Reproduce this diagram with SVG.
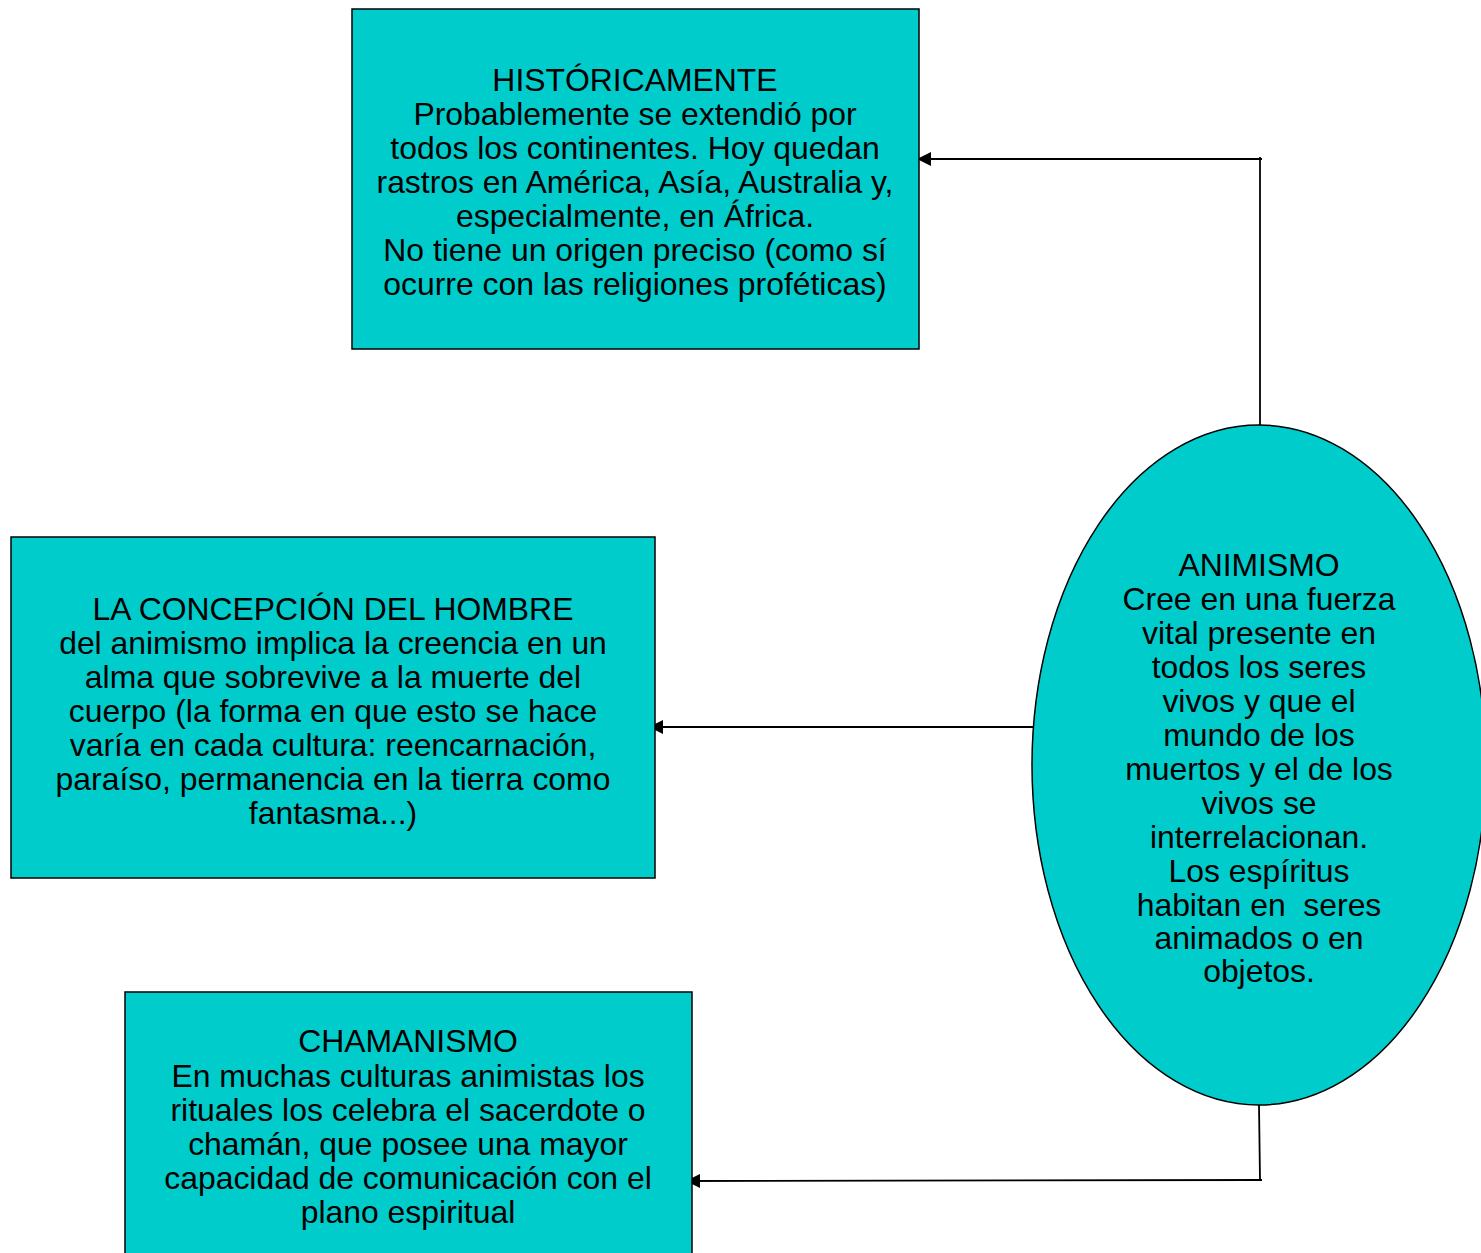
<svg xmlns="http://www.w3.org/2000/svg" width="1481" height="1253" viewBox="0 0 1481 1253">
<style>
.n{fill:#00CCCC;stroke:#000;stroke-width:1.5}
.t{font-family:"Liberation Sans",Arial,sans-serif;font-size:31.9px;fill:#000;text-anchor:middle}
.c{fill:none;stroke:#000;stroke-width:1.8}
</style>
<defs>
<marker id="a" markerWidth="14" markerHeight="14" refX="13" refY="7" orient="auto" markerUnits="userSpaceOnUse">
<path d="M0,0 L14,7 L0,14 Z" fill="#000"/>
</marker>
</defs>
<rect width="1481" height="1253" fill="#fff"/>
<g id="connectors">
<path class="c" d="M1260,425 L1260,157"/>
<path class="c" d="M1262,159 L918,159" marker-end="url(#a)"/>
<path class="c" d="M1035,727 L650,727" marker-end="url(#a)"/>
<path class="c" d="M1259,1105 L1260,1180"/>
<path class="c" d="M1262,1180 L687,1181" marker-end="url(#a)"/>
</g>
<g id="historicamente">
<rect class="n" x="352" y="9" width="567" height="340"/>
<text class="t"><tspan x="635" y="91">HISTÓRICAMENTE</tspan><tspan x="635" y="125">Probablemente se extendió por</tspan><tspan x="635" y="159">todos los continentes. Hoy quedan</tspan><tspan x="635" y="193">rastros en América, Asía, Australia y,</tspan><tspan x="635" y="227">especialmente, en África.</tspan><tspan x="635" y="261">No tiene un origen preciso (como sí</tspan><tspan x="635" y="295">ocurre con las religiones proféticas)</tspan></text>
</g>
<g id="concepcion">
<rect class="n" x="11" y="537" width="644" height="341"/>
<text class="t"><tspan x="333" y="620">LA CONCEPCIÓN DEL HOMBRE</tspan><tspan x="333" y="654">del animismo implica la creencia en un</tspan><tspan x="333" y="688">alma que sobrevive a la muerte del</tspan><tspan x="333" y="722">cuerpo (la forma en que esto se hace</tspan><tspan x="333" y="756">varía en cada cultura: reencarnación,</tspan><tspan x="333" y="790">paraíso, permanencia en la tierra como</tspan><tspan x="333" y="824">fantasma...)</tspan></text>
</g>
<g id="chamanismo">
<rect class="n" x="125" y="992" width="567" height="275"/>
<text class="t"><tspan x="408" y="1052">CHAMANISMO</tspan><tspan x="408" y="1087">En muchas culturas animistas los</tspan><tspan x="408" y="1121">rituales los celebra el sacerdote o</tspan><tspan x="408" y="1155">chamán, que posee una mayor</tspan><tspan x="408" y="1189">capacidad de comunicación con el</tspan><tspan x="408" y="1223">plano espiritual</tspan></text>
</g>
<g id="animismo">
<ellipse class="n" cx="1259" cy="765" rx="227" ry="340"/>
<text class="t"><tspan x="1259" y="576">ANIMISMO</tspan><tspan x="1259" y="610">Cree en una fuerza</tspan><tspan x="1259" y="644">vital presente en</tspan><tspan x="1259" y="678">todos los seres</tspan><tspan x="1259" y="712">vivos y que el</tspan><tspan x="1259" y="746">mundo de los</tspan><tspan x="1259" y="780">muertos y el de los</tspan><tspan x="1259" y="814">vivos se</tspan><tspan x="1259" y="848">interrelacionan.</tspan><tspan x="1259" y="882">Los espíritus</tspan><tspan x="1259" y="916">habitan en&#160; seres</tspan><tspan x="1259" y="949">animados o en</tspan><tspan x="1259" y="982">objetos.</tspan></text>
</g>
</svg>
